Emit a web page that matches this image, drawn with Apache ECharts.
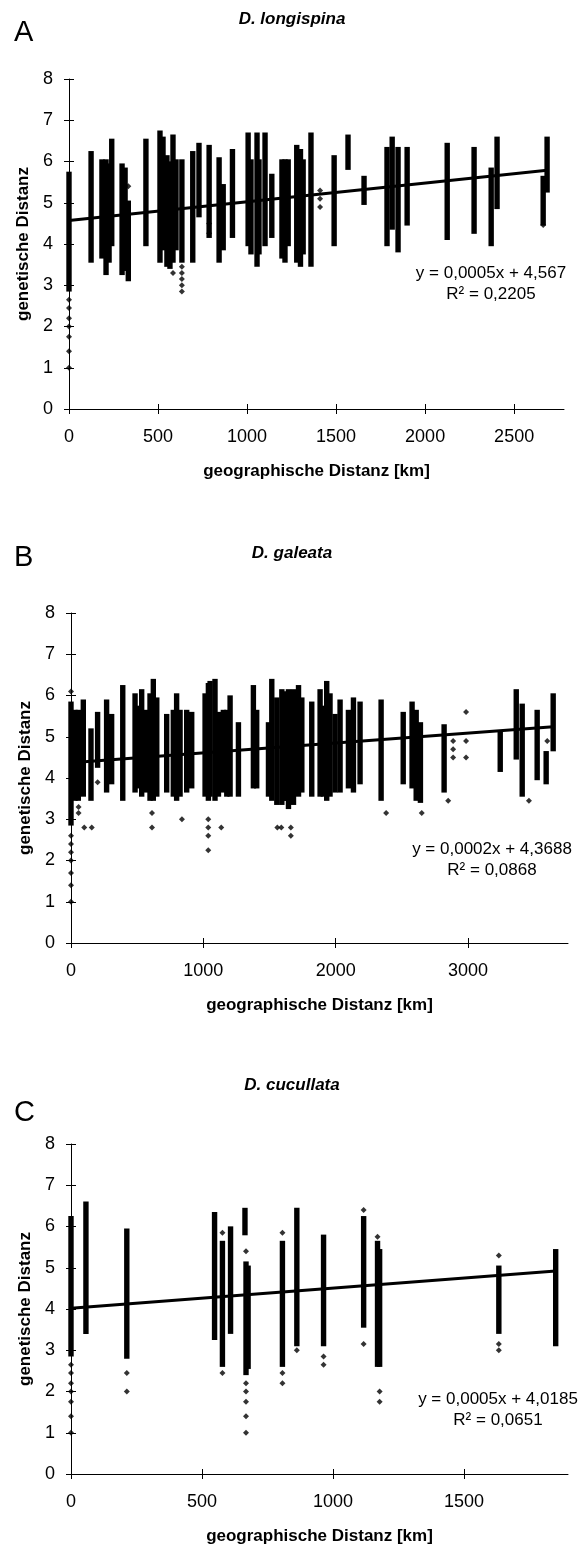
<!DOCTYPE html>
<html lang="de">
<head>
<meta charset="UTF-8">
<title>Genetische vs. geographische Distanz</title>
<script src="https://cdn.jsdelivr.net/npm/echarts@6.0.0/dist/echarts.min.js"></script>
<style>
    html, body { margin: 0; padding: 0; background: #fff; }
    #main { width: 581px; height: 1548px; }
</style>
</head>
<body>
<div id="main"></div>
<script type="text/javascript">
    // A - D. longispina: Punktsaeulen (km, untere/obere genet. Distanz)
    var kmA = [0, 124, 185, 208, 225, 240, 298, 315, 333, 432, 511, 528, 550, 567, 584, 601, 634, 695, 730, 787,
        843, 866, 918, 1006, 1022, 1056, 1067, 1101, 1139, 1196, 1213, 1231, 1279, 1300, 1315, 1359, 1489,
        1567, 1657, 1786, 1815, 1848, 1899, 2124, 2275, 2371, 2404, 2663, 2685];
    var loA = [2.9, 3.6, 3.7, 3.3, 3.6, 4.0, 3.3, 3.4, 3.15, 4.0, 3.6, 3.9, 3.5, 3.45, 3.6, 3.9, 3.6, 3.6, 4.7, 4.2,
        3.6, 3.9, 4.2, 4.0, 3.8, 3.5, 3.8, 4.0, 4.2, 3.7, 3.6, 4.0, 3.6, 3.5, 3.8, 3.5, 4.0,
        5.85, 5.0, 4.0, 4.4, 3.85, 4.5, 4.15, 4.3, 4.0, 4.9, 4.5, 5.3];
    var hiA = [5.7, 6.2, 6.0, 6.0, 5.9, 6.5, 5.9, 5.8, 5.0, 6.5, 6.7, 6.55, 6.1, 5.95, 6.6, 6.0, 6.0, 6.2, 6.4, 6.35,
        6.05, 5.4, 6.25, 6.65, 6.0, 6.65, 6.0, 6.65, 5.65, 6.0, 6.0, 6.0, 6.35, 6.25, 6.0, 6.65, 6.1,
        6.6, 5.6, 6.3, 6.55, 6.3, 6.3, 6.4, 6.3, 5.8, 6.55, 5.6, 6.55];
    var outA = [[0, 1.0], [0, 1.4], [0, 1.75], [0, 2.0], [0, 2.2], [0, 2.45], [0, 2.65], [333, 5.4],
        [634, 3.45], [634, 3.3], [634, 3.15], [634, 3.0], [634, 2.85], [584, 3.3], [787, 4.5], [787, 4.26],
        [1410, 4.9], [1410, 5.1], [1410, 5.3], [2663, 4.46]];
    var trendA = [[0, 4.567], [2685, 5.79]];

    // B - D. galeata
    var kmB = [0, 30, 55, 93, 151, 201, 269, 307, 391, 484, 516, 534, 572, 597, 622, 648, 723, 773, 798, 824,
        874, 912, 1013, 1038, 1051, 1088, 1114, 1151, 1177, 1202, 1265, 1378, 1403, 1492, 1517, 1555, 1593,
        1605, 1618, 1643, 1681, 1719, 1744, 1819, 1882, 1907, 1932, 1957, 1995, 2033, 2096, 2134, 2184,
        2343, 2510, 2577, 2608, 2640, 2819, 3243, 3364, 3409, 3522, 3590, 3643];
    var loB = [2.9, 3.5, 3.5, 3.6, 3.5, 4.3, 3.7, 3.9, 3.5, 3.7, 3.8, 3.6, 3.7, 3.5, 3.5, 3.6, 3.7, 3.6, 3.5, 3.6,
        3.7, 3.8, 3.6, 3.5, 3.6, 3.5, 3.6, 3.7, 3.6, 3.6, 3.6, 3.8, 3.8, 3.6, 3.5, 3.4, 3.4,
        3.5, 3.5, 3.3, 3.4, 3.6, 3.7, 3.6, 3.6, 3.6, 3.5, 3.6, 3.7, 3.7, 3.8, 3.7, 3.9,
        3.5, 3.9, 3.8, 3.5, 3.45, 3.7, 4.2, 4.5, 3.6, 4.0, 3.9, 4.7];
    var hiB = [5.8, 5.6, 5.6, 5.85, 5.15, 5.55, 5.85, 5.5, 6.2, 6.0, 5.7, 6.1, 5.6, 6.0, 6.35, 5.9, 5.5, 5.6, 6.0, 5.6,
        5.6, 5.55, 6.0, 6.25, 6.3, 6.35, 5.55, 5.6, 5.6, 5.95, 5.3, 6.2, 5.6, 5.3, 6.35, 5.9, 6.1,
        5.9, 6.05, 6.1, 6.1, 6.2, 5.9, 5.8, 6.1, 5.7, 6.3, 6.0, 5.5, 5.85, 5.6, 5.9, 5.8,
        5.85, 5.55, 5.8, 5.6, 5.3, 5.25, 5.1, 6.1, 5.75, 5.6, 4.6, 6.0];
    var outB = [[0, 1.0], [0, 1.4], [0, 1.7], [0, 2.0], [0, 2.2], [0, 2.4], [0, 2.6], [0, 6.1], [201, 3.9],
        [57, 3.3], [57, 3.15], [100, 2.8], [157, 2.8], [612, 3.15], [612, 2.8], [838, 3.0], [1037, 3.0],
        [1037, 2.8], [1037, 2.6], [1037, 2.25], [1135, 2.8], [1559, 2.8], [1589, 2.8], [1661, 2.8],
        [1661, 2.6], [2381, 3.15], [2650, 3.15], [2850, 3.45], [3460, 3.45], [2887, 4.5], [2887, 4.7],
        [2887, 4.9], [2985, 5.6], [2985, 4.9], [2985, 4.5], [3598, 4.9]];
    var trendB = [[0, 4.37], [3643, 5.24]];

    // C - D. cucullata
    var kmC = [0, 57, 213, 548, 578, 609, 664, 668, 676, 807, 862, 964, 1117, 1170, 1178, 1633, 1850];
    var loC = [2.9, 3.45, 2.85, 3.3, 2.65, 3.45, 5.84, 2.45, 2.6, 2.65, 3.15, 3.15, 3.6, 2.65, 2.65, 3.45, 3.15];
    var hiC = [6.2, 6.55, 5.9, 6.3, 5.6, 5.95, 6.4, 5.1, 5.0, 5.6, 6.4, 5.75, 6.2, 5.6, 5.4, 5.0, 5.4];
    var outC = [[0, 1.0], [0, 1.4], [0, 1.75], [0, 2.0], [0, 2.2], [0, 2.45], [0, 2.65], [213, 2.45], [213, 2.0],
        [578, 5.85], [578, 2.45], [668, 5.4], [668, 2.2], [668, 2.0], [668, 1.75], [668, 1.4], [668, 1.0],
        [807, 5.85], [807, 2.45], [807, 2.2], [862, 3.0], [964, 2.85], [964, 2.65], [1117, 6.4],
        [1117, 3.15], [1170, 5.75], [1178, 2.0], [1178, 1.75], [1633, 5.3], [1633, 3.15], [1633, 3.0]];
    var trendC = [[0, 4.02], [1850, 4.92]];

    var ticksA = [0, 500, 1000, 1500, 2000, 2500];
    var ticksB = [0, 1000, 2000, 3000];
    var ticksC = [0, 500, 1000, 1500];

    var FONT = 'Liberation Sans, Arial, sans-serif';

    var panels = [
        {km: kmA, lo: loA, hi: hiA, out: outA, trend: trendA, ticks: ticksA, xMax: 2780,
            left: 69, top: 79, width: 495, letter: 'A', letterY: 33, title: 'D. longispina', titleY: 19,
            eq: ['y = 0,0005x + 4,567', 'R² = 0,2205'], eqX: 491, eqY: 273},
        {km: kmB, lo: loB, hi: hiB, out: outB, trend: trendB, ticks: ticksB, xMax: 3755,
            left: 71, top: 613, width: 497, letter: 'B', letterY: 558, title: 'D. galeata', titleY: 553,
            eq: ['y = 0,0002x + 4,3688', 'R² = 0,0868'], eqX: 492, eqY: 849},
        {km: kmC, lo: loC, hi: hiC, out: outC, trend: trendC, ticks: ticksC, xMax: 1897,
            left: 71, top: 1144, width: 497, letter: 'C', letterY: 1113, title: 'D. cucullata', titleY: 1085,
            eq: ['y = 0,0005x + 4,0185', 'R² = 0,0651'], eqX: 498, eqY: 1399}
    ];

    function renderColumn(params, api) {
        var top = api.coord([api.value(0), api.value(2)]);
        var bot = api.coord([api.value(0), api.value(1)]);
        return {
            type: 'rect',
            shape: {x: top[0] - 2.7, y: top[1] - 2.2, width: 5.4, height: bot[1] - top[1] + 4.4},
            style: {fill: '#000'}
        };
    }

    function plain(v) {
        return String(v);
    }

    var grid = [], xAxis = [], yAxis = [], series = [], graphic = [];

    panels.forEach(function (p, i) {
        grid.push({left: p.left, top: p.top, width: p.width, height: 330, containLabel: false});

        // Hauptachsen (Striche nach aussen) + Overlay (Striche nach innen) = Kreuzstriche
        xAxis.push({
            gridIndex: i, type: 'value', min: 0, max: p.xMax, position: 'bottom',
            axisLine: {show: true, onZero: false, lineStyle: {color: '#000', width: 1}},
            axisTick: {show: true, length: 5, customValues: p.ticks, lineStyle: {color: '#000'}},
            axisLabel: {customValues: p.ticks, formatter: plain, color: '#000', fontSize: 18, fontFamily: FONT, margin: 19},
            splitLine: {show: false},
            name: 'geographische Distanz [km]', nameLocation: 'middle', nameGap: 54,
            nameTextStyle: {color: '#000', fontSize: 17, fontWeight: 'bold', fontFamily: FONT}
        });
        xAxis.push({
            gridIndex: i, type: 'value', min: 0, max: p.xMax, position: 'bottom',
            axisLine: {show: false},
            axisTick: {show: true, inside: true, length: 5, customValues: p.ticks, lineStyle: {color: '#000'}},
            axisLabel: {show: false}, splitLine: {show: false}
        });
        yAxis.push({
            gridIndex: i, type: 'value', min: 0, max: 8, interval: 1, position: 'left',
            axisLine: {show: true, onZero: false, lineStyle: {color: '#000', width: 1}},
            axisTick: {show: true, length: 5, lineStyle: {color: '#000'}},
            axisLabel: {formatter: plain, color: '#000', fontSize: 18, fontFamily: FONT, margin: 16},
            splitLine: {show: false},
            name: 'genetische Distanz', nameLocation: 'middle', nameGap: 36, nameRotate: 90,
            nameTextStyle: {color: '#000', fontSize: 17, fontWeight: 'bold', fontFamily: FONT}
        });
        yAxis.push({
            gridIndex: i, type: 'value', min: 0, max: 8, interval: 1, position: 'left',
            axisLine: {show: false},
            axisTick: {show: true, inside: true, length: 5, lineStyle: {color: '#000'}},
            axisLabel: {show: false}, splitLine: {show: false}
        });

        var cols = p.km.map(function (k, j) { return [k, p.lo[j], p.hi[j]]; });
        series.push({
            type: 'custom', xAxisIndex: 2 * i, yAxisIndex: 2 * i,
            data: cols, encode: {x: 0, y: [1, 2]},
            renderItem: renderColumn, silent: true, z: 2
        });
        series.push({
            type: 'scatter', xAxisIndex: 2 * i, yAxisIndex: 2 * i,
            data: p.out, symbol: 'diamond', symbolSize: [6, 6],
            itemStyle: {color: '#000'}, silent: true, z: 2
        });
        series.push({
            type: 'line', xAxisIndex: 2 * i, yAxisIndex: 2 * i,
            data: p.trend, symbol: 'none',
            lineStyle: {color: '#000', width: 3}, silent: true, z: 3
        });

        graphic.push({
            type: 'text', x: 14, y: p.letterY,
            style: {text: p.letter, fill: '#000', fontSize: 29, fontFamily: FONT, verticalAlign: 'middle'}
        });
        graphic.push({
            type: 'text', x: 292, y: p.titleY,
            style: {text: p.title, fill: '#000', fontSize: 17, fontWeight: 'bold', fontStyle: 'italic',
                fontFamily: FONT, align: 'center', verticalAlign: 'middle'}
        });
        graphic.push({
            type: 'text', x: p.eqX, y: p.eqY,
            style: {text: p.eq[0], fill: '#000', fontSize: 17, fontFamily: FONT, align: 'center', verticalAlign: 'middle'}
        });
        graphic.push({
            type: 'text', x: p.eqX, y: p.eqY + 21,
            style: {text: p.eq[1], fill: '#000', fontSize: 17, fontFamily: FONT, align: 'center', verticalAlign: 'middle'}
        });
    });

    var chart = echarts.init(document.getElementById('main'), null, {renderer: 'canvas'});
    chart.setOption({
        animation: false,
        backgroundColor: '#fff',
        grid: grid,
        xAxis: xAxis,
        yAxis: yAxis,
        series: series,
        graphic: graphic
    });
</script>
</body>
</html>
